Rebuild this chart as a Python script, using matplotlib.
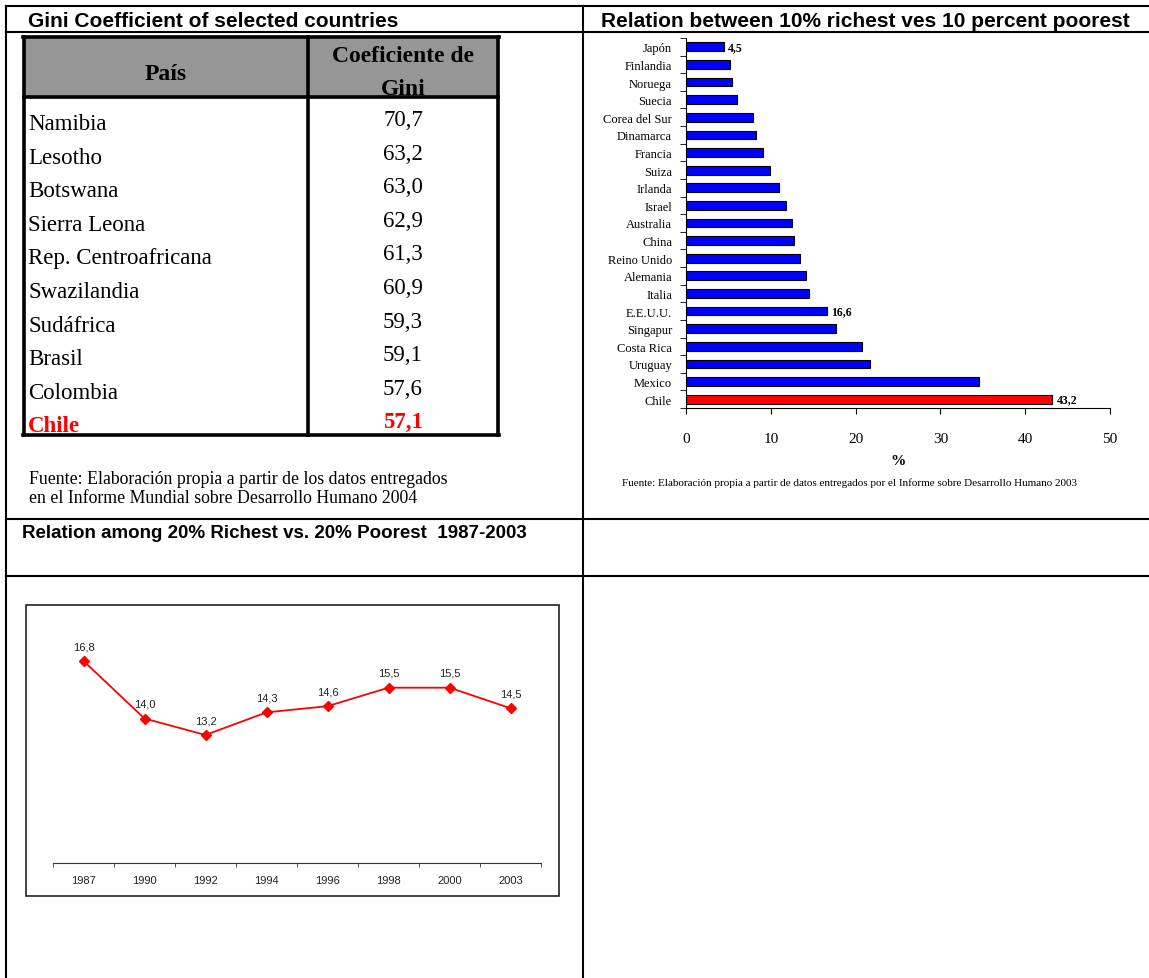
import matplotlib
matplotlib.use("Agg")
import matplotlib.pyplot as plt
from matplotlib.lines import Line2D
from matplotlib.patches import Rectangle

# datos
gini_countries = ["Namibia", "Lesotho", "Botswana", "Sierra Leona", "Rep. Centroafricana",
                  "Swazilandia", "Sudáfrica", "Brasil", "Colombia", "Chile"]
gini_values = [70.7, 63.2, 63.0, 62.9, 61.3, 60.9, 59.3, 59.1, 57.6, 57.1]

ratio_countries = ["Japón", "Finlandia", "Noruega", "Suecia", "Corea del Sur", "Dinamarca",
                   "Francia", "Suiza", "Irlanda", "Israel", "Australia", "China", "Reino Unido",
                   "Alemania", "Italia", "E.E.U.U.", "Singapur", "Costa Rica", "Uruguay",
                   "Mexico", "Chile"]
ratio_values = [4.5, 5.2, 5.4, 6.0, 7.9, 8.2, 9.1, 9.9, 11.0, 11.8, 12.5, 12.7, 13.4,
                14.2, 14.5, 16.6, 17.7, 20.8, 21.7, 34.6, 43.2]
ratio_labeled = ["Japón", "E.E.U.U.", "Chile"]

years = ["1987", "1990", "1992", "1994", "1996", "1998", "2000", "2003"]
quintile_ratio = [16.8, 14.0, 13.2, 14.3, 14.6, 15.5, 15.5, 14.5]

W, H = 1149, 979


def fx(x):
    return x / W


def fy(y):
    return 1 - y / H


def fmt(v):
    return f"{v:.1f}".replace(".", ",")


fig = plt.figure(figsize=(W / 100, H / 100), dpi=100)
fig.patch.set_facecolor("white")


def hline(y, x0, x1, lw=1.5, color="black"):
    fig.add_artist(Line2D([fx(x0), fx(x1)], [fy(y), fy(y)], transform=fig.transFigure,
                          color=color, lw=lw, zorder=5))


def vline(x, y0, y1, lw=1.5, color="black"):
    fig.add_artist(Line2D([fx(x), fx(x)], [fy(y0), fy(y1)], transform=fig.transFigure,
                          color=color, lw=lw, zorder=5))


# rejilla de la pagina
for y in [7, 33, 520, 577]:
    hline(y, 6, W)
vline(6, 7, H)
vline(583, 7, H)

sans = "Liberation Sans"
serif = "Liberation Serif"

fig.text(fx(28), fy(27), "Gini Coefficient of selected countries", fontsize=15,
         fontweight="bold", family=sans, va="baseline")
fig.text(fx(601), fy(27), "Relation between 10% richest ves 10 percent poorest", fontsize=15,
         fontweight="bold", family=sans, va="baseline")
fig.text(fx(22), fy(538), "Relation among 20% Richest vs. 20% Poorest  1987-2003", fontsize=13.5,
         fontweight="bold", family=sans, va="baseline")

# tabla Gini
tx0, tx1, tcol, ty0, thead, ty1 = 24, 498, 308, 38, 98, 436
fig.add_artist(Rectangle((fx(tx0), fy(thead)), (tx1 - tx0) / W, (thead - ty0) / H,
                         transform=fig.transFigure, facecolor="#969696", edgecolor="none", zorder=1))
tlw = 2.6
hline(ty0, tx0 - 1, tx1 + 1, lw=tlw)
hline(ty1, tx0 - 1, tx1 + 1, lw=tlw)
hline(thead, tx0, tx1, lw=tlw)
vline(tx0, ty0, ty1, lw=tlw)
vline(tx1, ty0, ty1, lw=tlw)
vline(tcol, ty0, ty1, lw=tlw)

fig.text(fx(166), fy(80), "País", fontsize=17, fontweight="bold", family=serif,
         ha="center", va="baseline")
fig.text(fx(403), fy(62), "Coeficiente de", fontsize=17, fontweight="bold", family=serif,
         ha="center", va="baseline")
fig.text(fx(403), fy(95), "Gini", fontsize=17, fontweight="bold", family=serif,
         ha="center", va="baseline", zorder=2)

for i, (name, val) in enumerate(zip(gini_countries, gini_values)):
    yb = 130 + 33.6 * i
    is_chile = name == "Chile"
    col = "red" if is_chile else "black"
    wt = "bold" if is_chile else "normal"
    fig.text(fx(28), fy(yb), name, fontsize=16.5, family=serif, color=col, fontweight=wt,
             va="baseline", zorder=2)
    fig.text(fx(403), fy(yb - 4), fmt(val), fontsize=16.5, family=serif, color=col,
             fontweight=wt, ha="center", va="baseline", zorder=2)

fig.text(fx(29), fy(484), "Fuente: Elaboración propia a partir de los datos entregados",
         fontsize=12.8, family=serif, va="baseline")
fig.text(fx(29), fy(503), "en el Informe Mundial sobre Desarrollo Humano 2004",
         fontsize=12.8, family=serif, va="baseline")

# barras 10% vs 10%
ax1 = fig.add_axes([fx(686), fy(409), (1110 - 686) / W, (409 - 39) / H])
ypos = list(range(len(ratio_countries)))
colors = ["red" if c == "Chile" else "#0000FF" for c in ratio_countries]
ax1.barh(ypos, ratio_values, height=0.5, color=colors, edgecolor="black", linewidth=0.8)
ax1.set_ylim(len(ratio_countries) - 0.5, -0.5)
ax1.set_xlim(0, 50)
ax1.spines["top"].set_visible(False)
ax1.spines["right"].set_visible(False)
ax1.set_yticks(ypos)
ax1.set_yticklabels(ratio_countries, family=serif, fontsize=9)
ax1.set_yticks([p - 0.5 for p in ypos] + [ypos[-1] + 0.5], minor=True)
ax1.tick_params(axis="y", which="major", length=0, pad=10)
ax1.tick_params(axis="y", which="minor", length=4, direction="out")
ax1.set_xticks(range(0, 51, 10))
ax1.set_xticklabels([str(t) for t in range(0, 51, 10)], family=serif, fontsize=11)
ax1.tick_params(axis="x", length=4, pad=13)
for p, c, v in zip(ypos, ratio_countries, ratio_values):
    if c in ratio_labeled:
        ax1.annotate(fmt(v), (v, p), xytext=(3, 0), textcoords="offset points",
                     fontsize=8.5, fontweight="bold", family=serif, va="center", ha="left")

fig.text(fx(898), fy(465), "%", fontsize=11, fontweight="bold", family=serif,
         ha="center", va="baseline")
fig.text(fx(850), fy(486), "Fuente: Elaboración propia a partir de datos entregados por el "
         "Informe sobre Desarrollo Humano 2003", fontsize=8, family=serif,
         ha="center", va="baseline")

# linea 20% vs 20%
fig.add_artist(Rectangle((fx(26), fy(897)), (559 - 26) / W, (897 - 606) / H,
                         transform=fig.transFigure, facecolor="none", edgecolor="#222222",
                         lw=1.2, zorder=1))
ax2 = fig.add_axes([fx(53), fy(864), (541 - 53) / W, (864 - 620) / H])
xpos = list(range(len(years)))
ax2.plot(xpos, quintile_ratio, color="red", lw=1.3, marker="D", markersize=5,
         markerfacecolor="red", markeredgecolor="red")
ax2.set_xlim(-0.5, len(years) - 0.5)
ax2.set_ylim(6.975, 18.84)
for s in ["top", "right", "left"]:
    ax2.spines[s].set_visible(False)
ax2.spines["bottom"].set_color("#333333")
ax2.set_yticks([])
ax2.set_xticks(xpos)
ax2.set_xticklabels(years, family=sans, fontsize=8, color="#222222")
ax2.set_xticks([p - 0.5 for p in xpos] + [xpos[-1] + 0.5], minor=True)
ax2.tick_params(axis="x", which="major", length=0, pad=9)
ax2.tick_params(axis="x", which="minor", length=3, direction="out", color="#333333")
for p, v in zip(xpos, quintile_ratio):
    ax2.annotate(fmt(v), (p, v), xytext=(0, 8.6), textcoords="offset points",
                 fontsize=8, family=sans, color="#222222", ha="center", va="baseline")

fig.savefig("out.png", dpi=100, facecolor="white")
